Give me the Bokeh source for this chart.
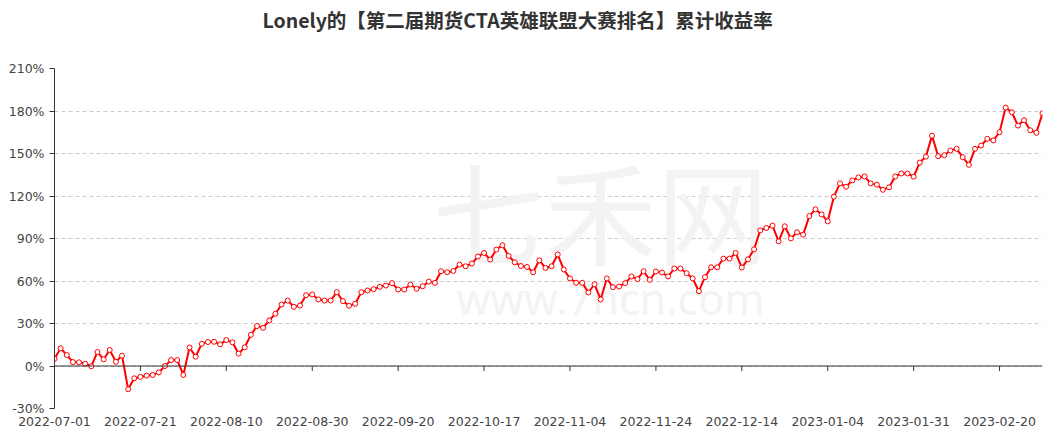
from bokeh.plotting import figure
from bokeh.models import Range1d, FixedTicker, Span, Label, Title
from bokeh.embed import file_html
from bokeh.resources import INLINE

dates = [
    "2022-07-01", "2022-07-04", "2022-07-05", "2022-07-06", "2022-07-07", "2022-07-08",
    "2022-07-11", "2022-07-12", "2022-07-13", "2022-07-14", "2022-07-15",
    "2022-07-18", "2022-07-19", "2022-07-20", "2022-07-21", "2022-07-22",
    "2022-07-25", "2022-07-26", "2022-07-27", "2022-07-28", "2022-07-29",
    "2022-08-01", "2022-08-02", "2022-08-03", "2022-08-04", "2022-08-05",
    "2022-08-08", "2022-08-09", "2022-08-10", "2022-08-11", "2022-08-12",
    "2022-08-15", "2022-08-16", "2022-08-17", "2022-08-18", "2022-08-19",
    "2022-08-22", "2022-08-23", "2022-08-24", "2022-08-25", "2022-08-26",
    "2022-08-29", "2022-08-30", "2022-08-31",
    "2022-09-01", "2022-09-02", "2022-09-05", "2022-09-06", "2022-09-07", "2022-09-08",
    "2022-09-09", "2022-09-13", "2022-09-14", "2022-09-15", "2022-09-16",
    "2022-09-19", "2022-09-20", "2022-09-21", "2022-09-22", "2022-09-23",
    "2022-09-26", "2022-09-27", "2022-09-28", "2022-09-29", "2022-09-30",
    "2022-10-10", "2022-10-11", "2022-10-12", "2022-10-13", "2022-10-14",
    "2022-10-17", "2022-10-18", "2022-10-19", "2022-10-20", "2022-10-21",
    "2022-10-24", "2022-10-25", "2022-10-26", "2022-10-27", "2022-10-28", "2022-10-31",
    "2022-11-01", "2022-11-02", "2022-11-03", "2022-11-04",
    "2022-11-07", "2022-11-08", "2022-11-09", "2022-11-10", "2022-11-11",
    "2022-11-14", "2022-11-15", "2022-11-16", "2022-11-17", "2022-11-18",
    "2022-11-21", "2022-11-22", "2022-11-23", "2022-11-24", "2022-11-25",
    "2022-11-28", "2022-11-29", "2022-11-30",
    "2022-12-01", "2022-12-02", "2022-12-05", "2022-12-06", "2022-12-07", "2022-12-08",
    "2022-12-09", "2022-12-12", "2022-12-13", "2022-12-14", "2022-12-15", "2022-12-16",
    "2022-12-19", "2022-12-20", "2022-12-21", "2022-12-22", "2022-12-23",
    "2022-12-26", "2022-12-27", "2022-12-28", "2022-12-29", "2022-12-30",
    "2023-01-03", "2023-01-04", "2023-01-05", "2023-01-06",
    "2023-01-09", "2023-01-10", "2023-01-11", "2023-01-12", "2023-01-13",
    "2023-01-16", "2023-01-17", "2023-01-18", "2023-01-19", "2023-01-20",
    "2023-01-30", "2023-01-31",
    "2023-02-01", "2023-02-02", "2023-02-03", "2023-02-06", "2023-02-07", "2023-02-08",
    "2023-02-09", "2023-02-10", "2023-02-13", "2023-02-14", "2023-02-15", "2023-02-16",
    "2023-02-17", "2023-02-20", "2023-02-21", "2023-02-22", "2023-02-23", "2023-02-24",
    "2023-02-27", "2023-02-28", "2023-03-01",
]

returns_pct = [
    5.1, 12.5, 7.7, 2.8, 2.6, 1.6, -0.2, 9.9, 4.7, 11.3,
    3.0, 7.3, -16.4, -8.7, -7.7, -6.8, -6.3, -4.5, 0.0, 4.2,
    4.2, -6.3, 13.1, 6.6, 15.7, 16.9, 17.1, 15.3, 18.3, 16.7,
    8.7,
    13.2, 22.0, 28.2, 27.0, 32.2, 36.9, 43.4, 46.2, 41.8, 42.7,
    50.0, 50.5, 47.0, 46.2, 46.2, 52.1, 45.8, 42.5, 43.9, 52.1,
    53.3, 54.2, 55.9, 56.8, 58.5, 54.0,
    54.0, 57.5, 54.5, 56.3, 59.6, 58.7, 66.9, 66.2, 67.1, 71.6,
    70.4, 72.3, 77.3, 79.8, 75.1, 82.2, 85.2, 77.7, 73.2, 70.6,
    69.9, 66.2, 74.6, 69.2, 70.4, 78.7, 68.1, 61.8, 58.8, 58.7,
    51.9, 57.7, 47.0, 61.8, 55.6, 56.1, 58.5, 63.2, 61.3, 66.9,
    60.8, 66.7, 66.0, 63.2, 68.8, 68.8, 65.5, 61.8, 52.8, 62.7,
    69.7, 69.7, 75.8, 75.8, 79.8, 69.5, 75.3, 82.4, 95.7,
    97.4, 99.1, 88.0, 98.6, 90.1, 94.4, 92.7, 105.8, 110.6, 107.0,
    102.1, 119.5, 128.9, 126.5, 131.0, 133.1, 133.8, 128.9, 128.0, 124.4,
    126.1, 133.8, 135.9, 135.9, 133.6, 143.6, 147.8, 162.6, 148.1,
    148.8, 152.1, 153.3, 147.4, 142.0, 153.3, 155.6, 160.4, 159.2, 165.0,
    182.4, 179.1, 169.7, 173.5, 166.4, 164.6, 178.4,
]

y_ticks = [-30, 0, 30, 60, 90, 120, 150, 180, 210]
x_label_every = 14
title_text = "Lonely的【第二届期货CTA英雄联盟大赛排名】累计收益率"

idx = list(range(len(dates)))
x_ticks = idx[::x_label_every]

p = figure(width=1062, height=435, output_backend="svg", toolbar_location=None,
           x_range=Range1d(0, len(dates) - 1), y_range=Range1d(y_ticks[0], y_ticks[-1]),
           min_border_left=54, min_border_right=20, min_border_top=0, min_border_bottom=27)
p.outline_line_color = None
p.background_fill_color = "white"

# title: a blank spacer next to the frame, then the title text above it
p.add_layout(Title(text=" ", text_font_size="10px", standoff=19), "above")
p.add_layout(Title(text=title_text, align="left", offset=208, standoff=5,
                   text_font="Noto Sans CJK SC", text_font_size="19.5px",
                   text_font_style="bold", text_color="#333333"), "above")

# axes
p.xaxis.ticker = FixedTicker(ticks=x_ticks)
p.xaxis.major_label_overrides = {i: dates[i] for i in x_ticks}
p.xaxis.axis_line_color = None
p.xaxis.major_tick_line_color = None
p.xaxis.minor_tick_line_color = None
p.xaxis.major_label_standoff = 2
p.xaxis.major_label_text_font = "DejaVu Sans"
p.xaxis.major_label_text_font_size = "12.5px"
p.xaxis.major_label_text_color = "#444444"

p.yaxis.ticker = FixedTicker(ticks=y_ticks)
p.yaxis.major_label_overrides = {v: f"{v}%" for v in y_ticks}
p.yaxis.axis_line_color = "#333333"
p.yaxis.major_tick_line_color = "#333333"
p.yaxis.major_tick_out = 5
p.yaxis.major_tick_in = 0
p.yaxis.minor_tick_line_color = None
p.yaxis.major_label_standoff = 5
p.yaxis.major_label_text_font = "DejaVu Sans"
p.yaxis.major_label_text_font_size = "12.5px"
p.yaxis.major_label_text_color = "#444444"

p.xgrid.grid_line_color = None
p.ygrid.ticker = FixedTicker(ticks=y_ticks)
p.ygrid.grid_line_color = "#cccccc"
p.ygrid.grid_line_dash = "4 3"

# watermark
wm1 = Label(x=546, y=200, x_units="screen", y_units="screen", text="七禾网",
            text_font="Noto Sans CJK SC", text_font_size="112px", text_color="#f3f3f3",
            text_align="center", text_baseline="middle", level="underlay")
wm2 = Label(x=556, y=110, x_units="screen", y_units="screen", text="www.7hcn.com",
            text_font="Noto Sans", text_font_size="43px", text_color="#f3f3f3",
            text_align="center", text_baseline="middle", level="underlay")
p.add_layout(wm1)
p.add_layout(wm2)

# zero axis line with ticks
p.add_layout(Span(location=0, dimension="width", line_color="#333333", line_width=1))
p.segment(x0=x_ticks, y0=[0] * len(x_ticks), x1=x_ticks, y1=[-3.5] * len(x_ticks),
          line_color="#333333", line_width=1)

p.line(idx, returns_pct, line_color="#ff0000", line_width=2)
p.scatter(idx, returns_pct, size=5, fill_color="white", line_color="#ff0000", line_width=1)

open("out.html", "w").write(file_html(p, INLINE))
